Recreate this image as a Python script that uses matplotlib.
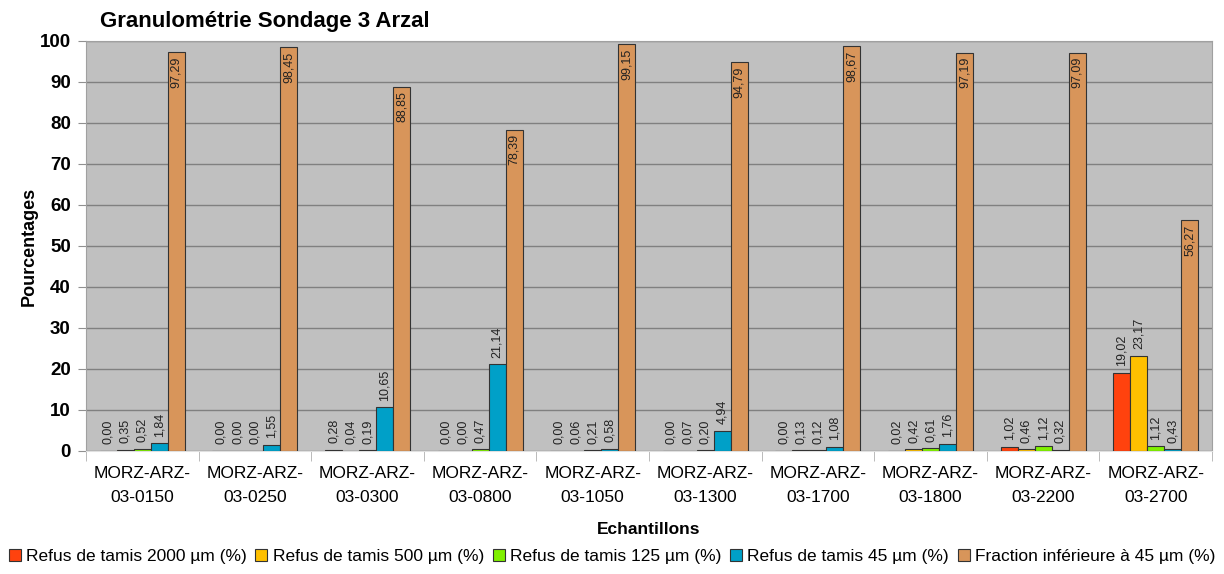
import numpy as np
import matplotlib
matplotlib.use("Agg")
import matplotlib.pyplot as plt
from matplotlib.patches import Rectangle

plt.rcParams["font.family"] = ["Liberation Sans", "DejaVu Sans"]

# Echantillons du sondage 3
SAMPLES = ["MORZ-ARZ-\n03-0150", "MORZ-ARZ-\n03-0250", "MORZ-ARZ-\n03-0300",
           "MORZ-ARZ-\n03-0800", "MORZ-ARZ-\n03-1050", "MORZ-ARZ-\n03-1300",
           "MORZ-ARZ-\n03-1700", "MORZ-ARZ-\n03-1800", "MORZ-ARZ-\n03-2200",
           "MORZ-ARZ-\n03-2700"]

REFUS_2000 = [0.00, 0.00, 0.28, 0.00, 0.00, 0.00, 0.00, 0.02, 1.02, 19.02]
REFUS_500 = [0.35, 0.00, 0.04, 0.00, 0.06, 0.07, 0.13, 0.42, 0.46, 23.17]
REFUS_125 = [0.52, 0.00, 0.19, 0.47, 0.21, 0.20, 0.12, 0.61, 1.12, 1.12]
REFUS_45 = [1.84, 1.55, 10.65, 21.14, 0.58, 4.94, 1.08, 1.76, 0.32, 0.43]
FRACTION_45 = [97.29, 98.45, 88.85, 78.39, 99.15, 94.79, 98.67, 97.19, 97.09, 56.27]

SERIES_NAMES = ["Refus de tamis 2000 µm (%)", "Refus de tamis 500 µm (%)",
                "Refus de tamis 125 µm (%)", "Refus de tamis 45 µm (%)",
                "Fraction inférieure à 45 µm (%)"]
COLORS = ["#ff420e", "#ffc000", "#80f000", "#00a0c8", "#d8955a"]


def fmt(v):
    return f"{v:.2f}".replace(".", ",")


fig = plt.figure(figsize=(12.24, 5.74), dpi=100)
ax = fig.add_axes([0.0703, 0.2143, 0.9199, 0.7143])
ax.set_facecolor("#c0c0c0")

series = [REFUS_2000, REFUS_500, REFUS_125, REFUS_45, FRACTION_45]
x = np.arange(len(SAMPLES))
w = 0.151
for i, (vals, color) in enumerate(zip(series, COLORS)):
    pos = x + (i - 2) * w
    ax.bar(pos, vals, width=w, color=color, edgecolor="#333333",
           linewidth=0.8, zorder=3)
    for px, v in zip(pos, vals):
        if i == 4:
            # étiquette de la fraction fine dans le haut de la barre
            ax.text(px, v - 1.0, fmt(v), rotation=90, ha="center", va="top",
                    fontsize=9, color="#222222", zorder=4)
        else:
            ax.text(px, v + 1.6, fmt(v), rotation=90, ha="center",
                    va="bottom", fontsize=9, color="#222222", zorder=4)

ax.set_xlim(-0.5, len(SAMPLES) - 0.5)
ax.set_ylim(0, 100)
ax.set_yticks(np.arange(0, 101, 10))
ax.yaxis.grid(True, color="#808080", linewidth=1, zorder=1)
ax.set_axisbelow(True)

ax.set_xticks(x)
ax.set_xticklabels(SAMPLES, fontsize=12.5, linespacing=1.75)
ax.set_xticks(np.arange(-0.5, len(SAMPLES), 1), minor=True)
ax.tick_params(axis="x", which="major", length=0, pad=11)
ax.tick_params(axis="x", which="minor", length=7, color="#b0b0b0")
ax.tick_params(axis="y", length=6, color="#909090", labelsize=13.5, pad=5)
for lbl in ax.get_yticklabels():
    lbl.set_fontweight("bold")

for side in ["top", "right"]:
    ax.spines[side].set_color("#a0a0a0")
ax.spines["left"].set_color("#a0a0a0")
ax.spines["bottom"].set_color("#e0e0e0")

ax.set_ylabel("Pourcentages", fontsize=13, fontweight="bold")
ax.yaxis.set_label_coords(-0.043, 0.5)
ax.set_xlabel("Echantillons", fontsize=12.5, fontweight="bold", labelpad=12)
fig.text(0.0817, 0.963, "Granulométrie Sondage 3 Arzal", fontsize=16,
         fontweight="bold", ha="left", va="center")

handles = [Rectangle((0, 0), 1, 1, facecolor=c, edgecolor="#333333",
                     linewidth=0.8) for c in COLORS]
fig.legend(handles, SERIES_NAMES, loc="center", bbox_to_anchor=(0.5, 0.031),
           ncol=5, frameon=False, fontsize=12.5, handlelength=0.7,
           handleheight=0.7, handletextpad=0.3, columnspacing=0.5)

fig.savefig("out.png", dpi=100)
